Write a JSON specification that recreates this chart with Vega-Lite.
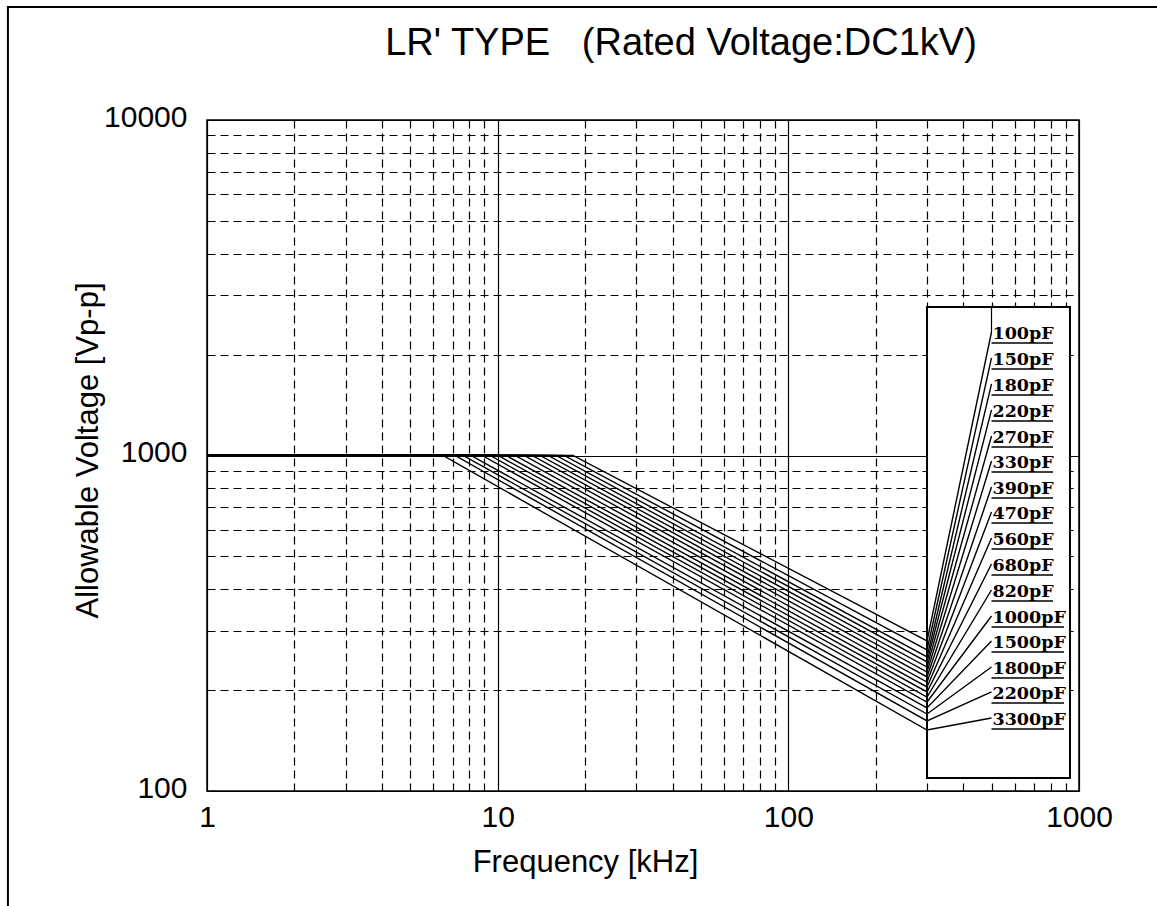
{
  "$schema": "https://vega.github.io/schema/vega-lite/v6.json",
  "width": 872,
  "height": 671,
  "autosize": {"type": "none"},
  "padding": {"left": 207, "top": 120, "right": 78, "bottom": 115},
  "background": "white",
  "title": {
    "text": "LR' TYPE\u00a0\u00a0\u00a0(Rated Voltage:DC1kV)",
    "font": "Liberation Sans",
    "fontSize": 38,
    "fontWeight": "normal",
    "color": "black",
    "anchor": "middle",
    "frame": "group",
    "dx": 38,
    "offset": -57
  },
  "datasets": {
    "curves": [
      {"cap": "100pF", "f": 1, "v": 1000, "k": 0}, {"cap": "100pF", "f": 18.16, "v": 1000, "k": 1}, {"cap": "100pF", "f": 300, "v": 280, "k": 2}, {"cap": "100pF", "f": 500, "v": 2334, "k": 3},
      {"cap": "150pF", "f": 1, "v": 1000, "k": 0}, {"cap": "150pF", "f": 16.92, "v": 1000, "k": 1}, {"cap": "150pF", "f": 300, "v": 263.3, "k": 2}, {"cap": "150pF", "f": 500, "v": 1953, "k": 3},
      {"cap": "180pF", "f": 1, "v": 1000, "k": 0}, {"cap": "180pF", "f": 15.88, "v": 1000, "k": 1}, {"cap": "180pF", "f": 300, "v": 250.9, "k": 2}, {"cap": "180pF", "f": 500, "v": 1634, "k": 3},
      {"cap": "220pF", "f": 1, "v": 1000, "k": 0}, {"cap": "220pF", "f": 14.9, "v": 1000, "k": 1}, {"cap": "220pF", "f": 300, "v": 242.4, "k": 2}, {"cap": "220pF", "f": 500, "v": 1367, "k": 3},
      {"cap": "270pF", "f": 1, "v": 1000, "k": 0}, {"cap": "270pF", "f": 13.98, "v": 1000, "k": 1}, {"cap": "270pF", "f": 300, "v": 234.2, "k": 2}, {"cap": "270pF", "f": 500, "v": 1143, "k": 3},
      {"cap": "330pF", "f": 1, "v": 1000, "k": 0}, {"cap": "330pF", "f": 13.13, "v": 1000, "k": 1}, {"cap": "330pF", "f": 300, "v": 226.3, "k": 2}, {"cap": "330pF", "f": 500, "v": 962.9, "k": 3},
      {"cap": "390pF", "f": 1, "v": 1000, "k": 0}, {"cap": "390pF", "f": 12.32, "v": 1000, "k": 1}, {"cap": "390pF", "f": 300, "v": 218.7, "k": 2}, {"cap": "390pF", "f": 500, "v": 805.6, "k": 3},
      {"cap": "470pF", "f": 1, "v": 1000, "k": 0}, {"cap": "470pF", "f": 11.47, "v": 1000, "k": 1}, {"cap": "470pF", "f": 300, "v": 211.3, "k": 2}, {"cap": "470pF", "f": 500, "v": 678.7, "k": 3},
      {"cap": "560pF", "f": 1, "v": 1000, "k": 0}, {"cap": "560pF", "f": 10.68, "v": 1000, "k": 1}, {"cap": "560pF", "f": 300, "v": 204.2, "k": 2}, {"cap": "560pF", "f": 500, "v": 567.7, "k": 3},
      {"cap": "680pF", "f": 1, "v": 1000, "k": 0}, {"cap": "680pF", "f": 10.03, "v": 1000, "k": 1}, {"cap": "680pF", "f": 300, "v": 197.3, "k": 2}, {"cap": "680pF", "f": 500, "v": 475.0, "k": 3},
      {"cap": "820pF", "f": 1, "v": 1000, "k": 0}, {"cap": "820pF", "f": 9.41, "v": 1000, "k": 1}, {"cap": "820pF", "f": 300, "v": 190.6, "k": 2}, {"cap": "820pF", "f": 500, "v": 397.3, "k": 3},
      {"cap": "1000pF", "f": 1, "v": 1000, "k": 0}, {"cap": "1000pF", "f": 8.84, "v": 1000, "k": 1}, {"cap": "1000pF", "f": 300, "v": 184.2, "k": 2}, {"cap": "1000pF", "f": 500, "v": 332.4, "k": 3},
      {"cap": "1500pF", "f": 1, "v": 1000, "k": 0}, {"cap": "1500pF", "f": 8.09, "v": 1000, "k": 1}, {"cap": "1500pF", "f": 300, "v": 176.8, "k": 2}, {"cap": "1500pF", "f": 500, "v": 280.0, "k": 3},
      {"cap": "1800pF", "f": 1, "v": 1000, "k": 0}, {"cap": "1800pF", "f": 7.6, "v": 1000, "k": 1}, {"cap": "1800pF", "f": 300, "v": 169.6, "k": 2}, {"cap": "1800pF", "f": 500, "v": 234.2, "k": 3},
      {"cap": "2200pF", "f": 1, "v": 1000, "k": 0}, {"cap": "2200pF", "f": 7.13, "v": 1000, "k": 1}, {"cap": "2200pF", "f": 300, "v": 161.7, "k": 2}, {"cap": "2200pF", "f": 500, "v": 197.3, "k": 3},
      {"cap": "3300pF", "f": 1, "v": 1000, "k": 0}, {"cap": "3300pF", "f": 6.48, "v": 1000, "k": 1}, {"cap": "3300pF", "f": 300, "v": 152.0, "k": 2}, {"cap": "3300pF", "f": 500, "v": 165.1, "k": 3}
    ],
    "labels": [
      {"cap": "100pF", "f": 500, "v": 2164, "fe": 814},
      {"cap": "150pF", "f": 500, "v": 1810, "fe": 814},
      {"cap": "180pF", "f": 500, "v": 1514, "fe": 814},
      {"cap": "220pF", "f": 500, "v": 1267, "fe": 814},
      {"cap": "270pF", "f": 500, "v": 1060, "fe": 814},
      {"cap": "330pF", "f": 500, "v": 892.9, "fe": 814},
      {"cap": "390pF", "f": 500, "v": 746.9, "fe": 814},
      {"cap": "470pF", "f": 500, "v": 629.3, "fe": 814},
      {"cap": "560pF", "f": 500, "v": 526.4, "fe": 814},
      {"cap": "680pF", "f": 500, "v": 440.4, "fe": 814},
      {"cap": "820pF", "f": 500, "v": 368.4, "fe": 814},
      {"cap": "1000pF", "f": 500, "v": 308.2, "fe": 888},
      {"cap": "1500pF", "f": 500, "v": 259.6, "fe": 888},
      {"cap": "1800pF", "f": 500, "v": 217.2, "fe": 888},
      {"cap": "2200pF", "f": 500, "v": 182.9, "fe": 888},
      {"cap": "3300pF", "f": 500, "v": 153.0, "fe": 888}
    ],
    "box": [{"f1": 300, "f2": 931, "v1": 109.4, "v2": 2771}],
    "guide": [{"f": 500, "v1": 2771, "v2": 2334}],
    "frame": [{"f1": 0.2066, "f2": 1977, "v1": 42.7, "v2": 21720}]
  },
  "encoding": {
    "x": {
      "field": "f",
      "type": "quantitative",
      "scale": {"type": "log", "domain": [1, 1000]},
      "axis": {
        "title": "Frequency [kHz]",
        "values": [1, 2, 3, 4, 5, 6, 7, 8, 9, 10, 20, 30, 40, 50, 60, 70, 80, 90, 100, 200, 300, 400, 500, 600, 700, 800, 900, 1000],
        "format": "d",
        "labelExpr": "indexof([1,10,100,1000], datum.value) >= 0 ? datum.label : ''",
        "labelFlush": false,
        "labelOverlap": false,
        "labelPadding": 11,
        "gridDash": {"condition": {"test": "indexof([1,10,100,1000], datum.value) >= 0", "value": []}, "value": [8, 5]},
        "titleX": 378,
        "titleY": 56,
        "titleBaseline": "top",
        "titleAlign": "center",
        "titleAnchor": null
      }
    },
    "y": {
      "field": "v",
      "type": "quantitative",
      "scale": {"type": "log", "domain": [100, 10000]},
      "axis": {
        "title": "Allowable Voltage [Vp-p]",
        "values": [100, 200, 300, 400, 500, 600, 700, 800, 900, 1000, 2000, 3000, 4000, 5000, 6000, 7000, 8000, 9000, 10000],
        "format": "d",
        "labelExpr": "indexof([100,1000,10000], datum.value) >= 0 ? datum.label : ''",
        "labelOverlap": false,
        "labelPadding": 20,
        "labelOffset": -3,
        "gridDash": {"condition": {"test": "indexof([100,1000,10000], datum.value) >= 0", "value": []}, "value": [8, 5]},
        "titleX": -110,
        "titleY": 330,
        "titleBaseline": "alphabetic",
        "titleAlign": "center",
        "titleAngle": -90,
        "titleAnchor": null
      }
    }
  },
  "layer": [
    {
      "data": {"name": "frame"},
      "mark": {"type": "rect", "fill": null, "stroke": "black", "strokeWidth": 2},
      "encoding": {
        "x": {"field": "f1", "type": "quantitative"},
        "x2": {"field": "f2"},
        "y": {"field": "v1", "type": "quantitative"},
        "y2": {"field": "v2"}
      }
    },
    {
      "data": {"name": "box"},
      "mark": {"type": "rect", "fill": "white", "stroke": "black", "strokeWidth": 2},
      "encoding": {
        "x": {"field": "f1", "type": "quantitative"},
        "x2": {"field": "f2"},
        "y": {"field": "v1", "type": "quantitative"},
        "y2": {"field": "v2"}
      }
    },
    {
      "data": {"name": "guide"},
      "mark": {"type": "rule", "color": "black", "strokeWidth": 1.2},
      "encoding": {
        "x": {"field": "f", "type": "quantitative"},
        "y": {"field": "v1", "type": "quantitative"},
        "y2": {"field": "v2"}
      }
    },
    {
      "data": {"name": "curves"},
      "mark": {"type": "line", "color": "black", "strokeWidth": 1.4},
      "encoding": {
        "detail": {"field": "cap"},
        "order": {"field": "k", "type": "quantitative"}
      }
    },
    {
      "data": {"name": "labels"},
      "mark": {"type": "rule", "color": "black", "strokeWidth": 1.5},
      "encoding": {
        "x2": {"field": "fe"}
      }
    },
    {
      "data": {"name": "labels"},
      "mark": {"type": "text", "font": "DejaVu Serif", "fontWeight": "bold", "fontSize": 17.5, "align": "left", "baseline": "alphabetic", "dx": 1, "dy": -4, "color": "black"},
      "encoding": {
        "text": {"field": "cap"}
      }
    }
  ],
  "config": {
    "view": {"stroke": "black", "strokeWidth": 1.5},
    "axis": {
      "domain": false,
      "ticks": false,
      "grid": true,
      "gridColor": "black",
      "gridOpacity": 1,
      "gridWidth": 1.2,
      "labelFont": "Liberation Sans",
      "labelFontSize": 30,
      "labelColor": "black",
      "titleFont": "Liberation Sans",
      "titleFontSize": 31,
      "titleFontWeight": "normal",
      "titleColor": "black"
    }
  }
}
